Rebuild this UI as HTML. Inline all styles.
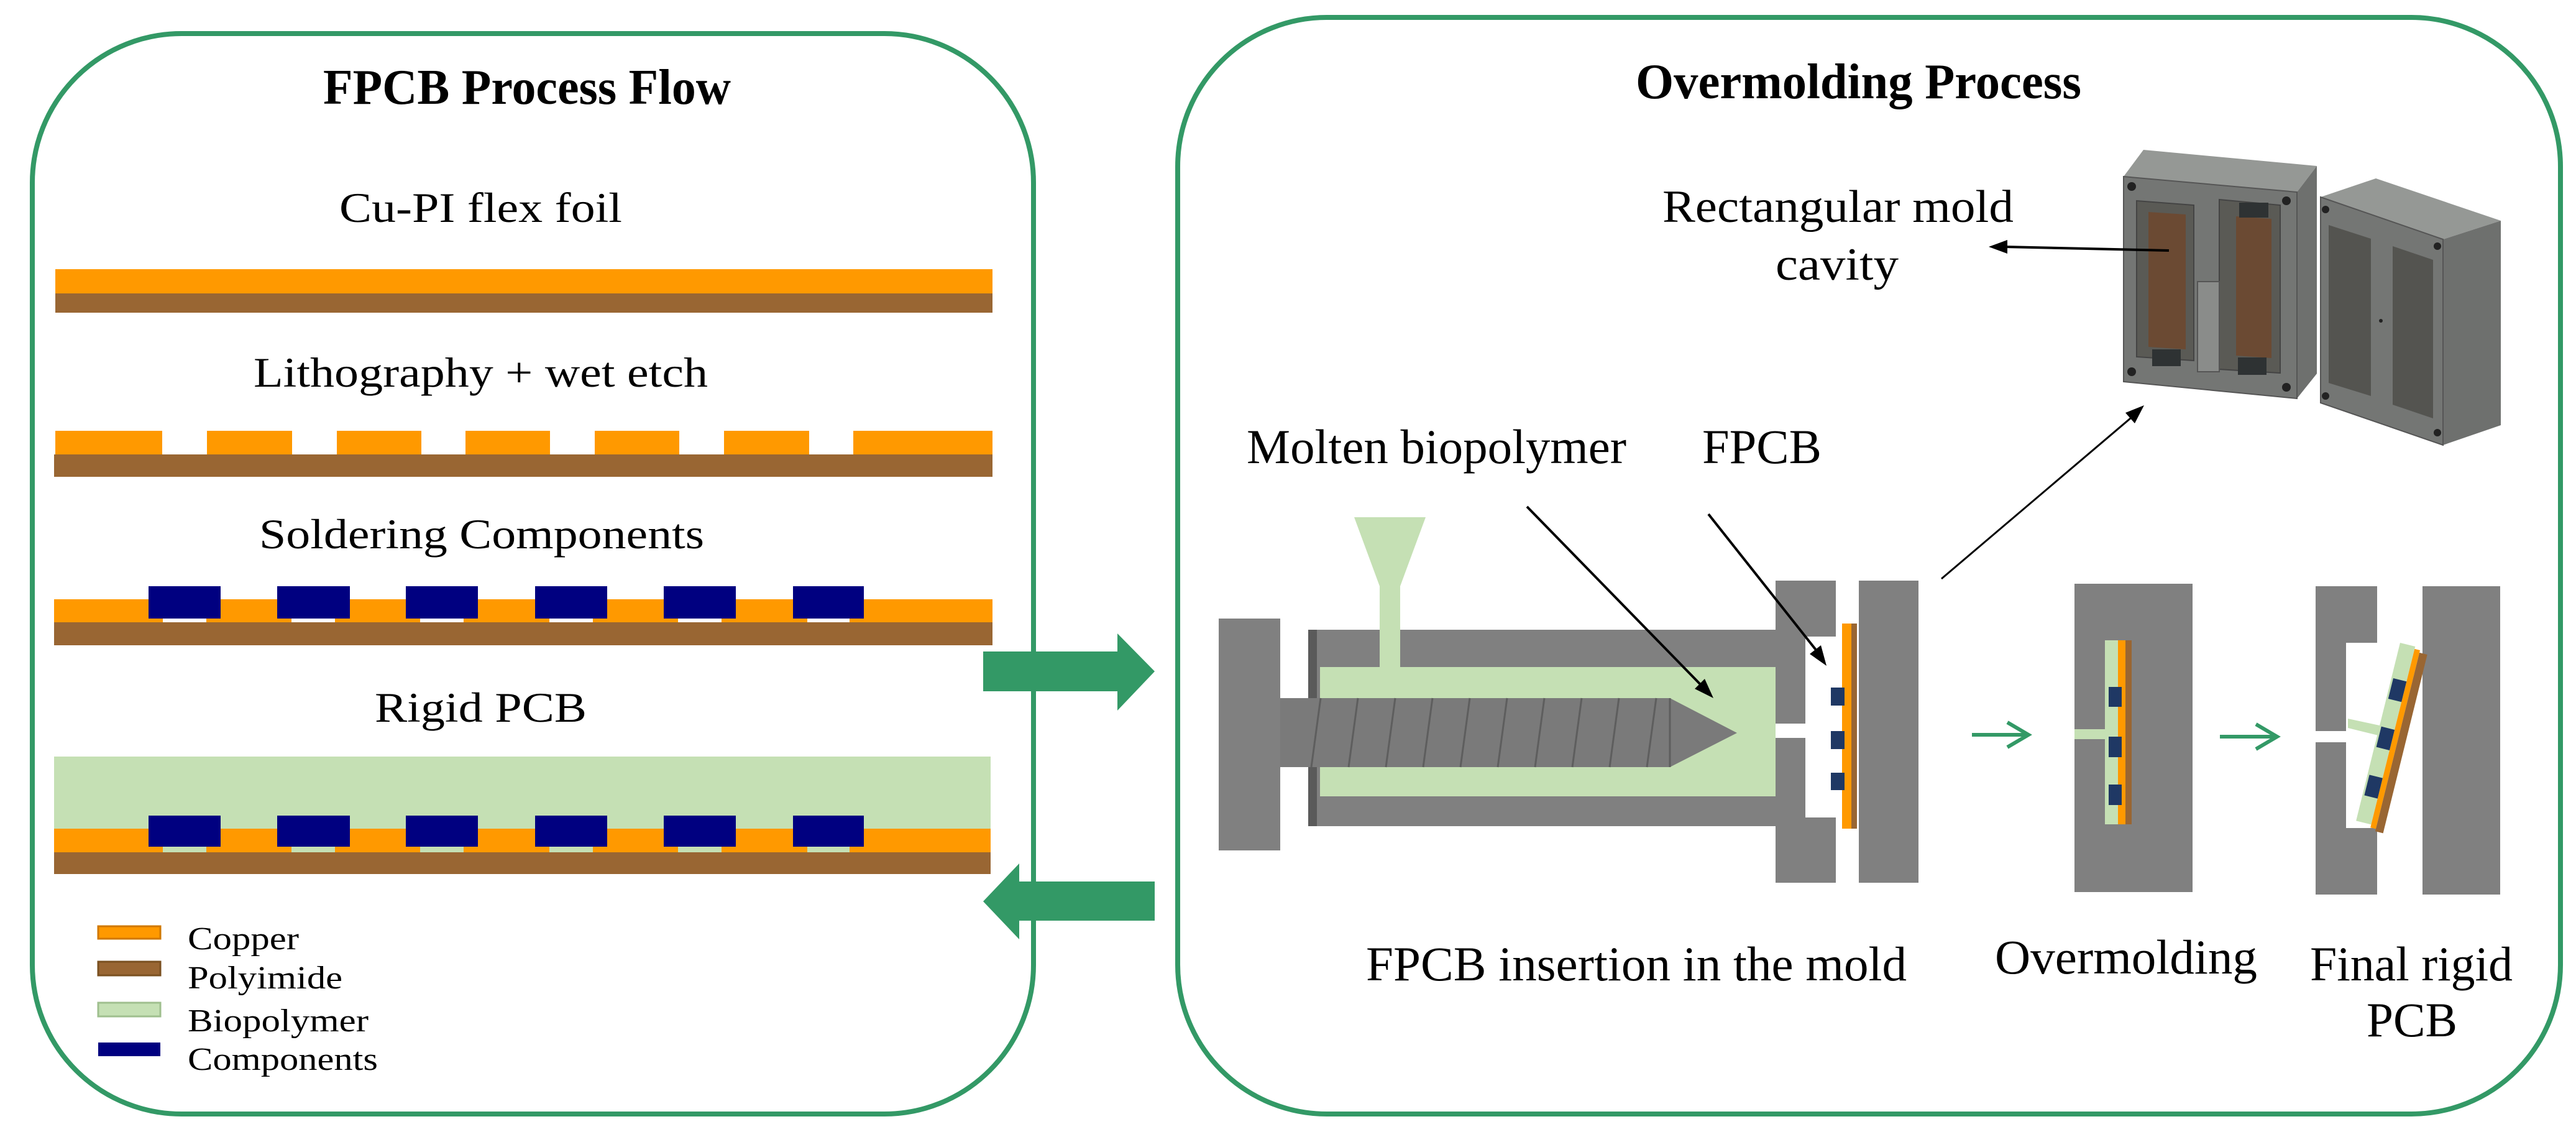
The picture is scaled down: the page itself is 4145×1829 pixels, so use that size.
<!DOCTYPE html>
<html><head><meta charset="utf-8"><style>
html,body{margin:0;padding:0;background:#fff;}
svg{display:block;}
text{font-family:"Liberation Serif",serif;fill:#000;}
</style></head><body>
<svg width="4145" height="1829" viewBox="0 0 4145 1829" xmlns="http://www.w3.org/2000/svg">
<!-- Left panel -->
<rect x="52" y="54" width="1611" height="1738" rx="240" ry="240" fill="none" stroke="#339966" stroke-width="8"/>
<text x="520" y="167" font-size="80" font-weight="bold" textLength="656" lengthAdjust="spacingAndGlyphs">FPCB Process Flow</text>
<text x="546" y="357" font-size="68" textLength="455" lengthAdjust="spacingAndGlyphs">Cu-PI flex foil</text>
<rect x="89" y="433" width="1508" height="39" fill="#FF9900"/>
<rect x="89" y="472" width="1508" height="31" fill="#996633"/>
<text x="408" y="622" font-size="68" textLength="731" lengthAdjust="spacingAndGlyphs">Lithography + wet etch</text>
<g fill="#FF9900">
<rect x="89" y="693" width="172" height="38"/><rect x="333" y="693" width="137" height="38"/>
<rect x="542" y="693" width="136" height="38"/><rect x="749" y="693" width="136" height="38"/>
<rect x="957" y="693" width="136" height="38"/><rect x="1165" y="693" width="137" height="38"/>
<rect x="1373" y="693" width="224" height="38"/></g>
<rect x="87" y="731" width="1510" height="36" fill="#996633"/>
<text x="417" y="882" font-size="68" textLength="716" lengthAdjust="spacingAndGlyphs">Soldering Components</text>
<rect x="87" y="964" width="1510" height="37" fill="#FF9900"/>
<rect x="87" y="1001" width="1510" height="37" fill="#996633"/>
<g fill="#fff">
<rect x="262" y="990" width="70" height="11"/><rect x="469" y="990" width="70" height="11"/>
<rect x="676" y="990" width="70" height="11"/><rect x="884" y="990" width="70" height="11"/>
<rect x="1091" y="990" width="70" height="11"/><rect x="1299" y="990" width="68" height="11"/></g>
<g fill="#000080">
<rect x="239" y="943" width="116" height="52"/><rect x="446" y="943" width="117" height="52"/>
<rect x="653" y="943" width="116" height="52"/><rect x="861" y="943" width="116" height="52"/>
<rect x="1068" y="943" width="116" height="52"/><rect x="1276" y="943" width="114" height="52"/></g>
<text x="603" y="1161" font-size="68" textLength="341" lengthAdjust="spacingAndGlyphs">Rigid PCB</text>
<rect x="87" y="1217" width="1507" height="116" fill="#C5E0B4"/>
<rect x="87" y="1333" width="1507" height="38" fill="#FF9900"/>
<rect x="87" y="1371" width="1507" height="35" fill="#996633"/>
<g fill="#C5E0B4">
<rect x="262" y="1360" width="70" height="11"/><rect x="469" y="1360" width="70" height="11"/>
<rect x="676" y="1360" width="70" height="11"/><rect x="884" y="1360" width="70" height="11"/>
<rect x="1091" y="1360" width="70" height="11"/><rect x="1299" y="1360" width="68" height="11"/></g>
<g fill="#000080">
<rect x="239" y="1312" width="116" height="50"/><rect x="446" y="1312" width="117" height="50"/>
<rect x="653" y="1312" width="116" height="50"/><rect x="861" y="1312" width="116" height="50"/>
<rect x="1068" y="1312" width="116" height="50"/><rect x="1276" y="1312" width="114" height="50"/></g>
<!-- legend -->
<rect x="158" y="1490" width="100" height="20" fill="#FF9900" stroke="#d07800" stroke-width="3"/>
<rect x="158" y="1547" width="100" height="22" fill="#996633" stroke="#7a5020" stroke-width="3"/>
<rect x="158" y="1613" width="100" height="22" fill="#C5E0B4" stroke="#9fbf8e" stroke-width="3"/>
<rect x="158" y="1677" width="100" height="22" fill="#000080"/>
<text x="302" y="1527" font-size="52" textLength="179" lengthAdjust="spacingAndGlyphs">Copper</text>
<text x="302" y="1590" font-size="52" textLength="249" lengthAdjust="spacingAndGlyphs">Polyimide</text>
<text x="302" y="1659" font-size="52" textLength="291" lengthAdjust="spacingAndGlyphs">Biopolymer</text>
<text x="302" y="1721" font-size="52" textLength="306" lengthAdjust="spacingAndGlyphs">Components</text>
<!-- big arrows -->
<polygon points="1582,1048 1798,1048 1798,1019 1858,1080 1798,1143 1798,1112 1582,1112" fill="#339966"/>
<polygon points="1858,1418 1640,1418 1640,1389 1582,1450 1640,1511 1640,1481 1858,1481" fill="#339966"/>
<!-- Right panel -->
<rect x="1895" y="28" width="2225" height="1764" rx="240" ry="240" fill="none" stroke="#339966" stroke-width="8"/>
<text x="2632" y="158" font-size="80" font-weight="bold" textLength="717" lengthAdjust="spacingAndGlyphs">Overmolding Process</text>
<text x="2675" y="357" font-size="74" textLength="565" lengthAdjust="spacingAndGlyphs">Rectangular mold</text>
<text x="2857" y="450" font-size="74" textLength="198" lengthAdjust="spacingAndGlyphs">cavity</text>
<!-- 3D mold left block -->
<polygon points="3449,241 3728,267 3696,309 3417,284" fill="#959895"/>
<polygon points="3696,309 3728,267 3728,601 3696,641" fill="#6e706e"/>
<polygon points="3417,284 3696,309 3696,641 3417,614" fill="#747674" stroke="#555" stroke-width="2"/>
<polygon points="3438,323 3530,330 3530,580 3438,574" fill="#5a5a55" stroke="#444" stroke-width="2"/>
<polygon points="3457,341 3517,345 3517,562 3457,558" fill="#6b4a33"/>
<polygon points="3571,321 3669,330 3669,600 3571,594" fill="#5a5a55" stroke="#444" stroke-width="2"/>
<polygon points="3598,348 3655,352 3655,576 3598,572" fill="#6b4a33"/>
<rect x="3536" y="453" width="35" height="145" fill="#8a8c8a" stroke="#555" stroke-width="2"/>
<rect x="3603" y="326" width="47" height="24" fill="#2e3233"/>
<rect x="3463" y="562" width="46" height="27" fill="#2e3233"/>
<rect x="3601" y="575" width="46" height="28" fill="#2e3233"/>
<circle cx="3430" cy="300" r="7" fill="#222"/><circle cx="3679" cy="323" r="7" fill="#222"/>
<circle cx="3430" cy="598" r="7" fill="#222"/><circle cx="3679" cy="623" r="7" fill="#222"/>
<!-- 3D mold right block -->
<polygon points="3823,287 4024,355 3931,385 3734,317" fill="#959895"/>
<polygon points="3931,385 4024,355 4024,684 3931,716" fill="#6e706e"/>
<polygon points="3734,317 3931,385 3931,716 3734,648" fill="#747674" stroke="#555" stroke-width="2"/>
<polygon points="3747,362 3815,384 3815,637 3747,616" fill="#545450"/>
<polygon points="3850,396 3915,418 3915,673 3850,651" fill="#545450"/>
<circle cx="3742" cy="337" r="6" fill="#222"/><circle cx="3922" cy="396" r="6" fill="#222"/>
<circle cx="3742" cy="637" r="6" fill="#222"/><circle cx="3922" cy="696" r="6" fill="#222"/>
<circle cx="3831" cy="516" r="3" fill="#222"/>
<!-- cavity arrow -->
<line x1="3490" y1="403" x2="3225" y2="397" stroke="#000" stroke-width="4"/>
<polygon points="3200,397 3230,386 3230,408" fill="#000"/>
<!-- lower labels -->
<text x="2006" y="745" font-size="78" textLength="611" lengthAdjust="spacingAndGlyphs">Molten biopolymer</text>
<text x="2739" y="745" font-size="78" textLength="192" lengthAdjust="spacingAndGlyphs">FPCB</text>
<text x="2198" y="1577" font-size="78" textLength="870" lengthAdjust="spacingAndGlyphs">FPCB insertion in the mold</text>
<text x="3210" y="1566" font-size="78" textLength="422" lengthAdjust="spacingAndGlyphs">Overmolding</text>
<text x="3717" y="1577" font-size="78" textLength="326" lengthAdjust="spacingAndGlyphs">Final rigid</text>
<text x="3808" y="1667" font-size="78" textLength="146" lengthAdjust="spacingAndGlyphs">PCB</text>
<!-- injection machine -->
<rect x="1961" y="995" width="99" height="373" fill="#808080"/>
<rect x="2105" y="1013" width="752" height="316" fill="#808080"/>
<rect x="2105" y="1013" width="14" height="316" fill="#5a5a5a"/>
<rect x="2124" y="1073" width="733" height="208" fill="#C5E0B4"/>
<polygon points="2179,832 2294,832 2253,943 2253,1073 2220,1073 2220,943" fill="#C5E0B4"/>
<polygon points="2060,1123 2687,1123 2795,1179 2687,1234 2060,1234" fill="#7a7a7a"/>
<g stroke="#5e5e5e" stroke-width="3">
<line x1="2110" y1="1234" x2="2125" y2="1123"/><line x1="2170" y1="1234" x2="2185" y2="1123"/>
<line x1="2230" y1="1234" x2="2245" y2="1123"/><line x1="2290" y1="1234" x2="2305" y2="1123"/>
<line x1="2350" y1="1234" x2="2365" y2="1123"/><line x1="2410" y1="1234" x2="2425" y2="1123"/>
<line x1="2470" y1="1234" x2="2485" y2="1123"/><line x1="2530" y1="1234" x2="2545" y2="1123"/>
<line x1="2590" y1="1234" x2="2605" y2="1123"/><line x1="2650" y1="1234" x2="2665" y2="1123"/>
<line x1="2687" y1="1123" x2="2687" y2="1234"/></g>
<!-- mold halves -->
<rect x="2857" y="934" width="97" height="486" fill="#808080"/>
<rect x="2857" y="1164" width="50" height="23" fill="#fff"/>
<rect x="2905" y="1024" width="59" height="291" fill="#fff"/>
<rect x="2964" y="1003" width="15" height="330" fill="#FF9900"/>
<rect x="2979" y="1003" width="9" height="330" fill="#996633"/>
<g fill="#1F3864"><rect x="2946" y="1106" width="22" height="29"/><rect x="2946" y="1176" width="22" height="29"/><rect x="2946" y="1243" width="22" height="28"/></g>
<rect x="2991" y="934" width="96" height="486" fill="#808080"/>
<!-- black arrows -->
<line x1="2457" y1="815" x2="2740" y2="1105" stroke="#000" stroke-width="4"/>
<polygon points="2757,1123 2727,1108 2743,1092" fill="#000"/>
<line x1="2749" y1="827" x2="2928" y2="1053" stroke="#000" stroke-width="4"/>
<polygon points="2939,1071 2912,1052 2930,1038" fill="#000"/>
<line x1="3124" y1="931" x2="3435" y2="667" stroke="#000" stroke-width="3"/>
<polygon points="3450,652 3435,681 3420,664" fill="#000"/>
<!-- small green arrows -->
<g stroke="#339966" stroke-width="6" fill="none">
<line x1="3173" y1="1182" x2="3262" y2="1182"/><polyline points="3230,1162 3264,1182 3230,1202"/>
<line x1="3572" y1="1185" x2="3662" y2="1185"/><polyline points="3630,1165 3664,1185 3630,1205"/></g>
<!-- overmolding block -->
<rect x="3338" y="939" width="190" height="496" fill="#808080"/>
<rect x="3338" y="1173" width="49" height="16" fill="#C5E0B4"/>
<rect x="3387" y="1030" width="21" height="296" fill="#C5E0B4"/>
<rect x="3408" y="1030" width="12" height="296" fill="#FF9900"/>
<rect x="3420" y="1030" width="10" height="296" fill="#996633"/>
<g fill="#1F3864"><rect x="3393" y="1105" width="21" height="32"/><rect x="3393" y="1185" width="21" height="33"/><rect x="3393" y="1262" width="21" height="33"/></g>
<!-- final -->
<rect x="3726" y="943" width="99" height="496" fill="#808080"/>
<rect x="3775" y="1034" width="50" height="298" fill="#fff"/>
<rect x="3726" y="1176" width="50" height="18" fill="#fff"/>
<rect x="3898" y="943" width="125" height="496" fill="#808080"/>
<polygon points="3778,1156 3829,1167 3827,1183 3778,1171" fill="#C5E0B4"/>
<g transform="translate(3862,1034) rotate(13.9)">
<rect x="0" y="0" width="25" height="295" fill="#C5E0B4"/>
<rect x="25" y="4" width="9" height="296" fill="#FF9900"/>
<rect x="34" y="8" width="13" height="296" fill="#996633"/>
<g fill="#1F3864"><rect x="3" y="58" width="22" height="34"/><rect x="3" y="138" width="22" height="34"/><rect x="3" y="218" width="22" height="34"/></g>
</g>
</svg>
</body></html>
